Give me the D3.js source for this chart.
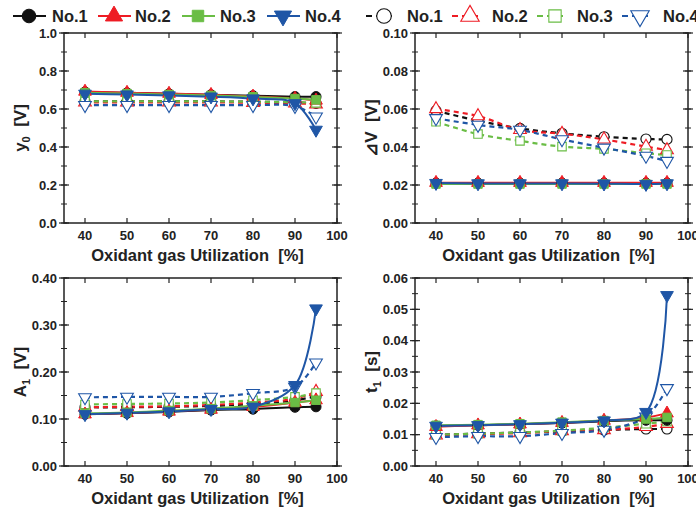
<!DOCTYPE html>
<html><head><meta charset="utf-8">
<script src="https://cdn.jsdelivr.net/npm/d3@7"></script>
<style>
body{margin:0;background:#fff}
text{font-family:"Liberation Sans",Arial,sans-serif;font-weight:bold;fill:#222;white-space:pre}
</style></head>
<body><svg id="c" width="696" height="508"></svg>
<script>
// ---------- data ----------
const utilization = [40, 50, 60, 70, 80, 90, 95];
const seriesNames = ["No.1", "No.2", "No.3", "No.4"];
const xTicks = [40, 50, 60, 70, 80, 90, 100];

// y0 [V]
const y0Solid = [
  [0.690, 0.685, 0.680, 0.675, 0.670, 0.665, 0.665],
  [0.692, 0.686, 0.681, 0.675, 0.666, 0.655, 0.645],
  [0.686, 0.681, 0.676, 0.671, 0.664, 0.655, 0.648],
  [0.680, 0.676, 0.671, 0.665, 0.655, 0.630, 0.490]
];
const y0Dashed = [
  [0.640, 0.640, 0.640, 0.640, 0.638, 0.635, 0.630],
  [0.635, 0.635, 0.635, 0.635, 0.633, 0.630, 0.625],
  [0.640, 0.640, 0.640, 0.640, 0.638, 0.636, 0.632],
  [0.620, 0.620, 0.620, 0.620, 0.620, 0.615, 0.560]
];
const y0Ticks = [0, 0.2, 0.4, 0.6, 0.8, 1.0];

// dV [V]
const dvSolid = [
  [0.0210, 0.0210, 0.0210, 0.0210, 0.0210, 0.0210, 0.0210],
  [0.0212, 0.0212, 0.0212, 0.0212, 0.0212, 0.0212, 0.0212],
  [0.0205, 0.0205, 0.0205, 0.0205, 0.0205, 0.0205, 0.0205],
  [0.0210, 0.0208, 0.0208, 0.0208, 0.0207, 0.0205, 0.0208]
];
const dvDashed = [
  [0.0591, 0.0538, 0.0498, 0.0472, 0.0454, 0.0442, 0.0440],
  [0.0600, 0.0563, 0.0490, 0.0470, 0.0440, 0.0402, 0.0384],
  [0.0533, 0.0468, 0.0432, 0.0402, 0.0390, 0.0367, 0.0358],
  [0.0551, 0.0516, 0.0490, 0.0440, 0.0396, 0.0353, 0.0326]
];
const dvTicks = [0, 0.02, 0.04, 0.06, 0.08, 0.10];

// A1 [V]
const a1Solid = [
  [0.110, 0.112, 0.115, 0.119, 0.121, 0.125, 0.126],
  [0.110, 0.113, 0.116, 0.120, 0.126, 0.135, 0.140],
  [0.112, 0.114, 0.118, 0.122, 0.128, 0.135, 0.140],
  [0.110, 0.113, 0.116, 0.121, 0.126, 0.172, 0.335]
];
const a1Dashed = [
  [0.125, 0.125, 0.126, 0.128, 0.132, 0.140, 0.148],
  [0.125, 0.126, 0.127, 0.130, 0.135, 0.143, 0.158],
  [0.131, 0.132, 0.133, 0.135, 0.140, 0.147, 0.155],
  [0.146, 0.147, 0.147, 0.147, 0.155, 0.168, 0.220]
];
const a1Ticks = [0, 0.10, 0.20, 0.30, 0.40];

// t1 [s]
const t1Solid = [
  [0.0128, 0.0130, 0.0133, 0.0137, 0.0143, 0.0146, 0.0146],
  [0.0125, 0.0130, 0.0133, 0.0138, 0.0145, 0.0155, 0.0168],
  [0.0130, 0.0132, 0.0135, 0.0140, 0.0145, 0.0150, 0.0155],
  [0.0128, 0.0130, 0.0133, 0.0138, 0.0145, 0.0172, 0.0545]
];
const t1Dashed = [
  [0.0100, 0.0103, 0.0107, 0.0110, 0.0115, 0.0118, 0.0118],
  [0.0098, 0.0102, 0.0105, 0.0112, 0.0115, 0.0125, 0.0135],
  [0.0100, 0.0103, 0.0107, 0.0113, 0.0122, 0.0135, 0.0142],
  [0.0092, 0.0095, 0.0095, 0.0105, 0.0115, 0.0157, 0.0248]
];
const t1Ticks = [0, 0.01, 0.02, 0.03, 0.04, 0.05, 0.06];

// ---------- style ----------
const colors = ["#111111", "#ee1c24", "#6abd45", "#1f56a6"];
const symbols = [d3.symbolCircle, d3.symbolTriangle, d3.symbolSquare, d3.symbolTriangle];
const rotations = [0, 0, 0, 180];
const symSize = [80, 70, 72, 70];

const svg = d3.select("#c");

const panels = [
  {box:[64,337,33,223], dom:[0,1.0], ticks:y0Ticks, minor:0.1, fmt:".1f", solid:y0Solid, dashed:y0Dashed, lab:"y", sub:"0", unit:"[V]", labX:26},
  {box:[415,688,33,223], dom:[0,0.10], ticks:dvTicks, minor:0.01, fmt:".2f", solid:dvSolid, dashed:dvDashed, lab:"⊿V", sub:"", unit:"[V]", labX:377},
  {box:[64,337,278,466], dom:[0,0.40], ticks:a1Ticks, minor:0.05, fmt:".2f", solid:a1Solid, dashed:a1Dashed, lab:"A", sub:"1", unit:"[V]", labX:26},
  {box:[415,688,278,466], dom:[0,0.06], ticks:t1Ticks, minor:0.005, fmt:".2f", solid:t1Solid, dashed:t1Dashed, lab:"t", sub:"1", unit:"[s]", labX:377}
];

function marker(g, i, x, y, open, scale) {
  const s = scale || 1;
  g.append("path")
    .attr("d", d3.symbol(symbols[i], symSize[i]*s*s)())
    .attr("transform", `translate(${x},${y}) rotate(${rotations[i]})`)
    .attr("fill", open ? "#fff" : colors[i])
    .attr("stroke", colors[i])
    .attr("stroke-width", open ? 1.1 : 1);
}

panels.forEach(p => {
  const [L, R, T, B] = p.box;
  const x = d3.scaleLinear().domain([35, 100]).range([L, R]);
  const y = d3.scaleLinear().domain(p.dom).range([B, T]);
  const g = svg.append("g");

  // minor ticks
  const nMinor = Math.round((p.dom[1]-p.dom[0])/p.minor);
  for (let k = 0; k <= nMinor; k++) {
    const v = p.dom[0] + k*p.minor;
    const yy = y(v);
    g.append("line").attr("x1", L-3).attr("x2", L+3).attr("y1", yy).attr("y2", yy).attr("stroke","#222").attr("stroke-width",1);
    g.append("line").attr("x1", R-3).attr("x2", R+3).attr("y1", yy).attr("y2", yy).attr("stroke","#222").attr("stroke-width",1);
  }
  // major y ticks
  p.ticks.forEach(v => {
    const yy = y(v);
    g.append("line").attr("x1", L-5).attr("x2", L+5).attr("y1", yy).attr("y2", yy).attr("stroke","#222").attr("stroke-width",1.2);
    g.append("line").attr("x1", R-5).attr("x2", R+5).attr("y1", yy).attr("y2", yy).attr("stroke","#222").attr("stroke-width",1.2);
    g.append("text").attr("x", L-7).attr("y", yy+4.5).attr("text-anchor","end").attr("font-size",13).text(d3.format(p.fmt)(v));
  });
  // x ticks
  xTicks.forEach(v => {
    const xx = x(v);
    g.append("line").attr("x1", xx).attr("x2", xx).attr("y1", B).attr("y2", B-5).attr("stroke","#222").attr("stroke-width",1.2);
    g.append("line").attr("x1", xx).attr("x2", xx).attr("y1", T).attr("y2", T+5).attr("stroke","#222").attr("stroke-width",1.2);
    g.append("text").attr("x", xx).attr("y", B+17).attr("text-anchor","middle").attr("font-size",13).text(v);
  });
  // frame
  g.append("rect").attr("x", L).attr("y", T).attr("width", R-L).attr("height", B-T)
    .attr("fill","none").attr("stroke","#222").attr("stroke-width",1.5);

  // x label
  g.append("text").attr("x", (L+R)/2 - 3).attr("y", B+38).attr("text-anchor","middle").attr("font-size",16.5)
    .text("Oxidant gas Utilization  [%]");
  // y label
  const yl = g.append("text").attr("transform", `translate(${p.labX},${(T+B)/2}) rotate(-90)`)
    .attr("text-anchor","middle").attr("font-size",17);
  yl.append("tspan").text(p.lab);
  if (p.sub) yl.append("tspan").attr("font-size",11).attr("dy",4).text(p.sub);
  yl.append("tspan").attr("dy", p.sub ? -4 : 0).text("  " + p.unit);

  const line = d3.line().x((d,j)=>x(utilization[j])).y(d=>y(d)).curve(d3.curveCatmullRom.alpha(0.5));
  const clip = "clip" + L + T;
  svg.append("clipPath").attr("id", clip).append("rect").attr("x",L).attr("y",T).attr("width",R-L).attr("height",B-T);
  const dg = g.append("g").attr("clip-path", `url(#${clip})`);

  // dashed (open markers)
  p.dashed.forEach((s, i) => {
    dg.append("path").attr("d", line(s)).attr("fill","none").attr("stroke", colors[i])
      .attr("stroke-width", 2.2).attr("stroke-dasharray","5,4");
  });
  p.dashed.forEach((s, i) => s.forEach((v, j) => marker(dg, i, x(utilization[j]), y(v), true)));
  // solid (filled markers)
  p.solid.forEach((s, i) => {
    dg.append("path").attr("d", line(s)).attr("fill","none").attr("stroke", colors[i]).attr("stroke-width", 2);
  });
  p.solid.forEach((s, i) => s.forEach((v, j) => marker(dg, i, x(utilization[j]), y(v), false)));
});

// ---------- legends ----------
const legSolidX = [29, 114, 198, 283];
const legSolidText = [52, 135, 220, 305];
legSolidX.forEach((cx, i) => {
  svg.append("line").attr("x1", cx-16).attr("x2", cx+17).attr("y1", 16).attr("y2", 16).attr("stroke", colors[i]).attr("stroke-width", 2);
  marker(svg, i, cx, 16, false, 1.35);
  svg.append("text").attr("x", legSolidText[i]).attr("y", 22).attr("font-size", 16.5).text(seriesNames[i]);
});
const legDashX = [384, 470, 555, 640];
const legDashText = [407, 492, 577, 663];
legDashX.forEach((cx, i) => {
  svg.append("line").attr("x1", cx-18).attr("x2", cx+10).attr("y1", 16).attr("y2", 16).attr("stroke", colors[i])
    .attr("stroke-width", 2).attr("stroke-dasharray","6,4");
  marker(svg, i, cx, 16, true, 1.45);
  svg.append("text").attr("x", legDashText[i]).attr("y", 22).attr("font-size", 16.5).text(seriesNames[i]);
});
</script></body></html>
